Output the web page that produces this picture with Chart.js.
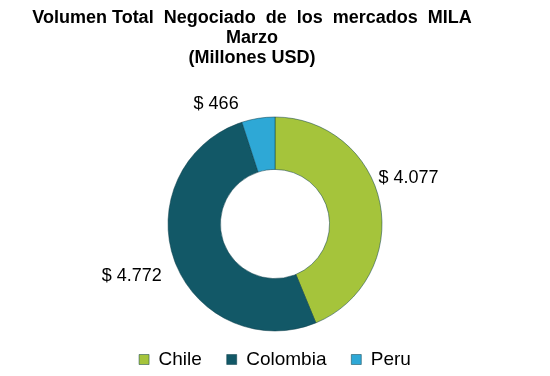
<!DOCTYPE html>
<html>
<head>
<meta charset="utf-8">
<script src="https://cdn.jsdelivr.net/npm/chart.js@4.4.1/dist/chart.umd.min.js"></script>
<style>
    html, body { margin: 0; padding: 0; background: #ffffff; }
    #wrap { width: 550px; height: 376px; position: relative; }
</style>
</head>
<body>
<div id="wrap"><canvas id="milaChart"></canvas></div>
<script>
// Chart data
const categories = ['Chile', 'Colombia', 'Peru'];
const volumes = [4077, 4772, 466];
const sliceColors = ['#a5c43b', '#125867', '#2ea8d6'];
const titleLines = ['Volumen Total  Negociado  de  los  mercados  MILA', 'Marzo', '(Millones USD)'];

// label nudges (px) relative to a point just outside each slice
const labelNudge = [[9, -21], [-24, 8], [-39, 5]];

function formatUsd(v) {
    return '$ ' + v.toLocaleString('de-DE');
}

// Title is a bit left of centre in the original, so draw it by hand
const leftTitle = {
    id: 'leftTitle',
    afterDraw(chart) {
        const ctx = chart.ctx;
        ctx.save();
        ctx.font = 'bold 18px "Liberation Sans", Arial, sans-serif';
        ctx.fillStyle = '#000000';
        ctx.textAlign = 'center';
        ctx.textBaseline = 'middle';
        titleLines.forEach((line, i) => {
            ctx.fillText(line, 252, 18 + i * 19.8);
        });
        ctx.restore();
    }
};

// Draw value labels outside the ring
const outsideLabels = {
    id: 'outsideLabels',
    afterDatasetsDraw(chart) {
        const ctx = chart.ctx;
        const meta = chart.getDatasetMeta(0);
        ctx.save();
        ctx.font = '18px "Liberation Sans", Arial, sans-serif';
        ctx.fillStyle = '#000000';
        ctx.textAlign = 'center';
        ctx.textBaseline = 'middle';
        meta.data.forEach((arc, i) => {
            const p = arc.getProps(['x', 'y', 'startAngle', 'endAngle', 'outerRadius'], true);
            const mid = (p.startAngle + p.endAngle) / 2;
            const r = p.outerRadius + 20;
            const x = p.x + Math.cos(mid) * r + labelNudge[i][0];
            const y = p.y + Math.sin(mid) * r + labelNudge[i][1];
            ctx.fillText(formatUsd(volumes[i]), x, y);
        });
        ctx.restore();
    }
};

// wider gaps between legend items without making the legend taller
function legendLabels(chart) {
    const items = Chart.overrides.doughnut.plugins.legend.labels.generateLabels(chart);
    items.forEach((item, i) => {
        if (i < items.length - 1) item.text = item.text + '   ';
    });
    return items;
}

new Chart(document.getElementById('milaChart'), {
    type: 'doughnut',
    data: {
        labels: categories,
        datasets: [{
            data: volumes,
            backgroundColor: sliceColors,
            borderColor: '#0b3d48',
            borderWidth: 0.5,
            radius: 107,
            cutout: '51%'
        }]
    },
    options: {
        responsive: true,
        maintainAspectRatio: false,
        animation: false,
        layout: {
            padding: { top: 107, bottom: -3, left: 0, right: 0 }
        },
        plugins: {
            title: { display: false },
            legend: {
                position: 'bottom',
                labels: {
                    color: '#000000',
                    font: { family: '"Liberation Sans", Arial, sans-serif', size: 19 },
                    boxWidth: 10,
                    boxHeight: 10,
                    padding: 9,
                    generateLabels: legendLabels
                }
            },
            tooltip: { enabled: false }
        }
    },
    plugins: [outsideLabels, leftTitle]
});
</script>
</body>
</html>
